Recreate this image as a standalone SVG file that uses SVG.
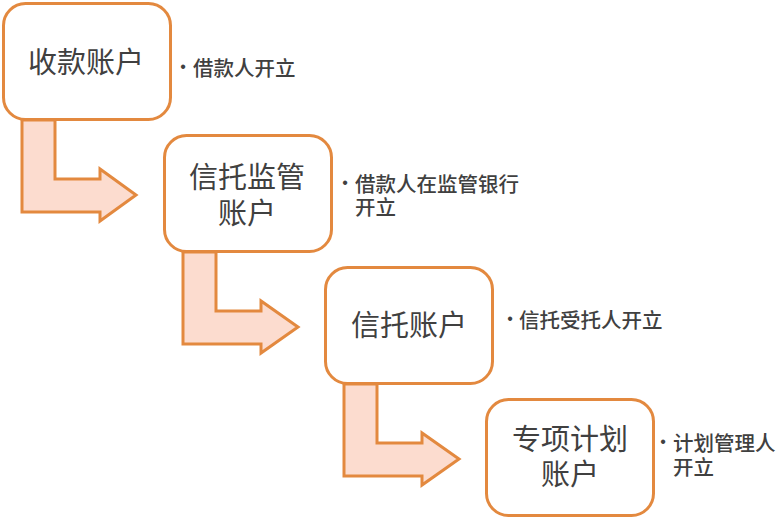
<svg xmlns="http://www.w3.org/2000/svg" width="784" height="519" viewBox="0 0 784 519">
<style>
.box{fill:#ffffff;stroke:#E3893F;stroke-width:3}
.arr{fill:#FCDCCF;stroke:#E3893F;stroke-width:3;stroke-linejoin:miter}
.t{font-family:"Noto Sans CJK SC","Liberation Sans",sans-serif;font-size:29px;fill:#404040;text-anchor:middle;dominant-baseline:central}
.l{font-family:"Noto Sans CJK SC","Liberation Sans",sans-serif;font-size:20.5px;font-weight:500;fill:#404040;dominant-baseline:central}
.b{font-family:"Liberation Sans",sans-serif;font-size:16px;fill:#404040;text-anchor:middle;dominant-baseline:central}
</style>
<rect width="784" height="519" fill="#ffffff"/>
<g id="connectors">
<path class="arr" d="M22,120 L22,212 L100,212 L100,221 L136,195 L100,169 L100,179 L55,179 L55,120 Z"/>
<path class="arr" d="M183,252 L183,344 L261,344 L261,353 L298,327 L261,301 L261,311 L216,311 L216,252 Z"/>
<path class="arr" d="M344,384 L344,476 L422,476 L422,485 L459,459 L422,433 L422,443 L377,443 L377,384 Z"/>
</g>
<g id="node1">
<rect class="box" x="3.5" y="3.5" width="167" height="116" rx="22"/>
<text class="t" x="86" y="60">收款账户</text>
</g>
<g id="label1">
<text class="b" x="183" y="66">•</text>
<text class="l" x="193" y="66.5">借款人开立</text>
</g>
<g id="node2">
<rect class="box" x="164.5" y="135.5" width="167" height="116" rx="22"/>
<text class="t"><tspan x="247" y="174.5">信托监管</tspan><tspan x="247" y="210.5">账户</tspan></text>
</g>
<g id="label2">
<text class="b" x="345" y="182">•</text>
<text class="l"><tspan x="355" y="182.5">借款人在监管银行</tspan><tspan x="355" y="206">开立</tspan></text>
</g>
<g id="node3">
<rect class="box" x="325.5" y="267.5" width="167" height="116" rx="22"/>
<text class="t" x="409" y="322.5">信托账户</text>
</g>
<g id="label3">
<text class="b" x="510" y="318.5">•</text>
<text class="l" x="519" y="319">信托受托人开立</text>
</g>
<g id="node4">
<rect class="box" x="486.5" y="399.5" width="167" height="116" rx="22"/>
<text class="t"><tspan x="570" y="436.5">专项计划</tspan><tspan x="570" y="471.5">账户</tspan></text>
</g>
<g id="label4">
<text class="b" x="663" y="441">•</text>
<text class="l"><tspan x="673" y="441.5">计划管理人</tspan><tspan x="673" y="465.5">开立</tspan></text>
</g>
</svg>
